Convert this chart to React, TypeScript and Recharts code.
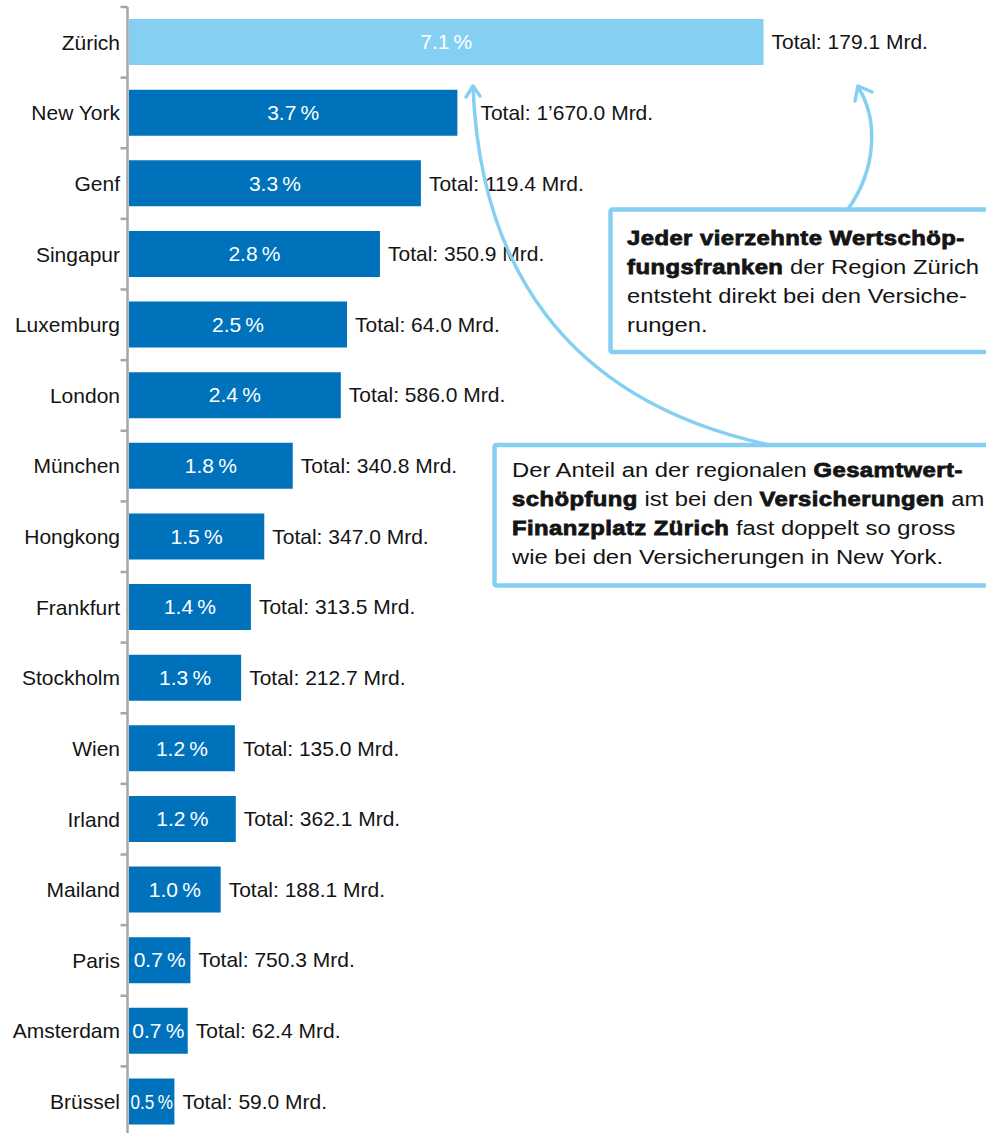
import { Bar, BarChart, Cell, LabelList, XAxis, YAxis } from 'recharts';

const cities = [
  'Zürich', 'New York', 'Genf', 'Singapur', 'Luxemburg', 'London', 'München', 'Hongkong',
  'Frankfurt', 'Stockholm', 'Wien', 'Irland', 'Mailand', 'Paris', 'Amsterdam', 'Brüssel',
];
// share of regional value added by insurers, in percent
const shares = [7.13, 3.69, 3.28, 2.82, 2.45, 2.38, 1.84, 1.52, 1.37, 1.26, 1.19, 1.2, 1.03, 0.69, 0.66, 0.51];
// total regional value added, bn
const totals = [179.1, 1670.0, 119.4, 350.9, 64.0, 586.0, 340.8, 347.0, 313.5, 212.7, 135.0, 362.1, 188.1, 750.3, 62.4, 59.0];

const data = cities.map((name, i) => ({ name, share: shares[i], total: totals[i] }));

const FONT = '"Liberation Sans", Arial, Helvetica, sans-serif';
const LIGHT = '#85CFF3';
const DARK = '#0072BC';
const W = 986;
const H = 1140;
const TOP = 7;
const BOTTOM = 3;
const AXIS_W = 129;
const BAND = (H - TOP - BOTTOM) / cities.length;

function fmtTotal(v: number): string {
  const [int, dec] = v.toFixed(1).split('.');
  return `Total: ${int.replace(/\B(?=(\d{3})+(?!\d))/g, '\u2019')}.${dec} Mrd.`;
}

function CityTick(props: any) {
  const { y, payload } = props;
  const ax = AXIS_W - 1.5;
  return (
    <g>
      <line x1={ax} x2={ax} y1={y - BAND / 2} y2={y + BAND / 2} stroke="#A6A6A6" strokeWidth={2.5} />
      <line x1={ax - 7} x2={ax} y1={y - BAND / 2} y2={y - BAND / 2} stroke="#A6A6A6" strokeWidth={2.5} />
      <text x={AXIS_W - 9} y={y} dy="0.35em" textAnchor="end" fontSize={21} fill="#141414" fontFamily={FONT}>
        {payload.value}
      </text>
    </g>
  );
}

function PctLabel(props: any) {
  const { x, y, width, height, value } = props;
  const txt = `${Number(value).toFixed(1)}\u2009%`;
  const tight = width < 54;
  return (
    <text
      x={x + width / 2}
      y={y + height / 2}
      dy="0.35em"
      textAnchor="middle"
      fontSize={21}
      fill="#fff"
      fontFamily={FONT}
      {...(tight ? { textLength: width - 3, lengthAdjust: 'spacingAndGlyphs' } : {})}
    >
      {txt}
    </text>
  );
}

function TotalLabel(props: any) {
  const { x, y, width, height, value, index } = props;
  const gap = cities[index] === 'New York' ? 23 : 8;
  return (
    <text x={x + width + gap} y={y + height / 2} dy="0.35em" fontSize={21} fill="#141414" fontFamily={FONT}>
      {fmtTotal(Number(value))}
    </text>
  );
}

type Seg = [string, boolean];

function NoteText({ x, y, lines }: { x: number; y: number; lines: Seg[][] }) {
  return (
    <g transform={`translate(${x},0) scale(1.19,1) translate(${-x},0)`}>
      {lines.map((segs, i) => (
        <text key={i} x={x} y={y + i * 29} fontSize={20} fontFamily={FONT} fill="#141414">
          {segs.map(([t, b], j) =>
            b ? (
              <tspan key={j} fontWeight={700} stroke="#141414" strokeWidth={0.8} letterSpacing={0.4}>
                {t}
              </tspan>
            ) : (
              <tspan key={j}>{t}</tspan>
            ),
          )}
        </text>
      ))}
    </g>
  );
}

const note1: Seg[][] = [
  [['Jeder vierzehnte Wertschöp-', true]],
  [['fungsfranken', true], [' der Region Zürich', false]],
  [['entsteht direkt bei den Versiche-', false]],
  [['rungen.', false]],
];

const note2: Seg[][] = [
  [['Der Anteil an der regionalen ', false], ['Gesamtwert-', true]],
  [['schöpfung', true], [' ist bei den ', false], ['Versicherungen', true], [' am', false]],
  [['Finanzplatz Zürich', true], [' fast doppelt so gross', false]],
  [['wie bei den Versicherungen in New York.', false]],
];

function Annotations() {
  return (
    <svg width={W} height={1133} style={{ position: 'absolute', left: 0, top: 0, pointerEvents: 'none' }}>
      <g fill="none" stroke={LIGHT} strokeWidth={3.5} strokeLinecap="round" strokeLinejoin="round">
        <path d="M848,209 C876,170 879,120 858,87" />
        <path d="M855,101 L858,86 L872,92" />
        <path d="M473,87 C480,260 560,400 770,445" />
        <path d="M466,97 L473,86 L480,96" />
      </g>
      <rect x={610.5} y={209.5} width={420} height={142.5} rx={2} fill="#fff" stroke={LIGHT} strokeWidth={4.5} />
      <rect x={494.5} y={445} width={520} height={140.5} rx={2} fill="#fff" stroke={LIGHT} strokeWidth={4.5} />
      <NoteText x={627} y={245} lines={note1} />
      <NoteText x={512} y={477} lines={note2} />
    </svg>
  );
}

export default function App() {
  return (
    <div style={{ position: 'absolute', left: 0, top: 0, width: W, height: 1133, overflow: 'hidden', background: '#fff' }}>
      <BarChart
        width={W}
        height={H}
        data={data}
        layout="vertical"
        margin={{ top: TOP, right: 0, bottom: BOTTOM, left: 0 }}
      >
        <XAxis type="number" hide domain={[0, 9.63]} />
        <YAxis
          type="category"
          dataKey="name"
          width={AXIS_W}
          axisLine={false}
          tickLine={false}
          interval={0}
          tick={<CityTick />}
        />
        <Bar dataKey="share" barSize={46} isAnimationActive={false}>
          {data.map((d, i) => (
            <Cell key={d.name} fill={i === 0 ? LIGHT : DARK} />
          ))}
          <LabelList dataKey="share" content={<PctLabel />} />
          <LabelList dataKey="total" content={<TotalLabel />} />
        </Bar>
      </BarChart>
      <Annotations />
    </div>
  );
}
